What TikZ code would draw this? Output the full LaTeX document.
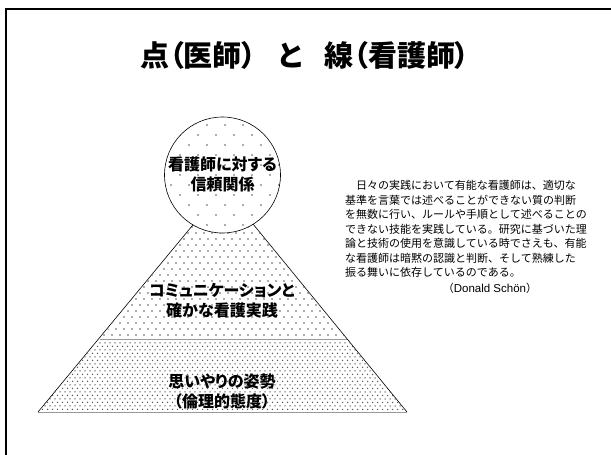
\documentclass[tikz,border=0pt]{standalone}
\usepackage{fontspec}
\newfontfamily\jp{Noto Sans CJK JP}
\newfontfamily\jpp[RawFeature=+palt]{Noto Sans CJK JP}
\newfontfamily\lat{Liberation Sans}
\usetikzlibrary{patterns}
\pgfdeclarepatternformonly{sparsedots}{\pgfqpoint{-1pt}{-1pt}}{\pgfqpoint{19pt}{21pt}}{\pgfqpoint{18pt}{20pt}}{%
  \pgfpathcircle{\pgfqpoint{0pt}{0pt}}{0.85pt}\pgfpathcircle{\pgfqpoint{9pt}{10pt}}{0.85pt}\pgfusepath{fill}}
\pgfdeclarepatternformonly{middots}{\pgfqpoint{-1pt}{-1pt}}{\pgfqpoint{9pt}{13pt}}{\pgfqpoint{8pt}{12pt}}{%
  \pgfpathcircle{\pgfqpoint{0pt}{0pt}}{0.8pt}\pgfpathcircle{\pgfqpoint{4pt}{6pt}}{0.8pt}\pgfusepath{fill}}
\pgfdeclarepatternformonly{densedots}{\pgfqpoint{-1pt}{-1pt}}{\pgfqpoint{6pt}{8pt}}{\pgfqpoint{5pt}{7pt}}{%
  \pgfpathcircle{\pgfqpoint{0pt}{0pt}}{0.75pt}\pgfpathcircle{\pgfqpoint{2.5pt}{3.5pt}}{0.75pt}\pgfusepath{fill}}
\tikzset{
  edge/.style={draw=black,line width=0.6pt},
  greyedge/.style={draw=gray!80,line width=1pt},
  label16/.style={font=\jpp\bfseries\fontsize{16}{20}\selectfont,align=center,inner sep=0pt},
  para/.style={font=\jp\fontsize{11}{14.5}\selectfont,inner sep=0pt,anchor=north west,align=left},
  dotcol/.style={pattern color=black!65},
}
\begin{document}
\begin{tikzpicture}[x=1pt,y=-1pt]
\useasboundingbox (0,0) rectangle (611,455);
% frame
\draw[line width=1.4pt] (6,455) -- (6,9) -- (611,9);
% title
\node[font=\jpp\bfseries\fontsize{29}{34}\selectfont,inner sep=0pt] (title) at (305,55) {点（医師）\hspace{22pt}と\hspace{22pt}線（看護師）};
% pyramid coordinates
\coordinate (bl) at (38,412);
\coordinate (br) at (407,412);
\coordinate (ml) at (100,339);
\coordinate (mr) at (347,339);
\coordinate (apex) at (223.5,188);
% bottom band
\fill[pattern=densedots,dotcol] (bl) -- (ml) -- (mr) -- (br) -- cycle;
% middle triangle
\fill[pattern=middots,dotcol] (ml) -- (apex) -- (mr) -- cycle;
\draw[greyedge] (ml) -- (mr);
\draw[greyedge] (bl) -- (br);
\draw[edge] (bl) -- (apex) -- (br);
% circle
\node[circle,edge,minimum size=116pt,inner sep=0pt,preaction={fill=white},pattern=sparsedots,dotcol] (trust) at (222.5,175) {};
\node[label16] (trusttext) at (222.5,174) {看護師に対する\\信頼関係};
% labels
\node[label16] (mid) at (222,301) {コミュニケーションと\\確かな看護実践};
\node[label16] (base) at (222,391) {思いやりの姿勢\\（倫理的態度）};
% quote
\node[para] (quote) at (345,180.5) {　日々の実践において有能な看護師は、適切な\\
基準を言葉では述べることができない質の判断\\
を無数に行い、ルールや手順として述べることの\\
できない技能を実践している。研究に基づいた理\\
論と技術の使用を意識している時でさえも、有能\\
な看護師は暗黙の認識と判断、そして熟練した\\
振る舞いに依存しているのである。};
\node[font=\jp\fontsize{11}{14.5}\selectfont,inner sep=0pt] (author) at (490,288) {（{\lat\fontsize{11.5}{14}\selectfont Donald Schön}）};
\end{tikzpicture}
\end{document}
